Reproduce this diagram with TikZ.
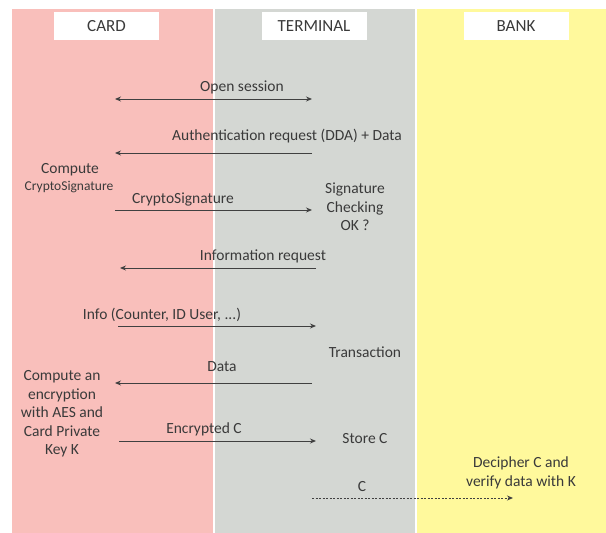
\documentclass[tikz,border=0pt]{standalone}
\usepackage{fontspec}
\setmainfont{Carlito}
\usetikzlibrary{arrows.meta}
\definecolor{lanepink}{HTML}{F9BFBB}
\definecolor{lanegray}{HTML}{D4D7D3}
\definecolor{laneyellow}{HTML}{FFF99C}
\definecolor{txt}{HTML}{3A3A3A}
\definecolor{arr}{HTML}{404040}
\tikzset{
  lane/.style={fill=#1, draw=none},
  hdr/.style={fill=white, draw=none, minimum width=105pt, minimum height=28pt, inner sep=0pt, text=txt, font=\fontsize{17}{20}\selectfont},
  lbl/.style={text=txt, inner sep=0pt, font=\fontsize{15.5}{18.5}\selectfont, align=center},
  small/.style={text=txt, inner sep=0pt, font=\fontsize{13.5}{16}\selectfont},
  msg/.style={draw=arr, line width=0.9pt, -{Stealth[length=6pt,width=5pt]}},
  dmsg/.style={msg, dashed, dash pattern=on 2pt off 1.5pt},
}
\begin{document}
\begin{tikzpicture}[x=1pt,y=-1pt]
\useasboundingbox (0,0) rectangle (606,533);
\fill[white] (0,0) rectangle (606,533);
% lanes
\path[lane=lanepink] (12,9) rectangle (213,533);
\path[lane=lanegray] (214.5,9) rectangle (415,533);
\path[lane=laneyellow] (416.5,9) rectangle (606,533);
% headers
\node[hdr] (card) at (106.5,26) {CARD};
\node[hdr] (term) at (314,26) {TERMINAL};
\node[hdr] (bank) at (516,26) {BANK};
% coordinates
\coordinate (a1l) at (115,99);  \coordinate (a1r) at (312,99);
\coordinate (a2l) at (115,153); \coordinate (a2r) at (312,153);
\coordinate (a3l) at (115,210); \coordinate (a3r) at (312,210);
\coordinate (a4l) at (120,268); \coordinate (a4r) at (316,268);
\coordinate (a5l) at (118,326); \coordinate (a5r) at (316,326);
\coordinate (a6l) at (115,383); \coordinate (a6r) at (312,383);
\coordinate (a7l) at (119,441); \coordinate (a7r) at (316,441);
\coordinate (a8l) at (312,498); \coordinate (a8r) at (513,498);
% messages
\node[lbl] (m1) at (242,87) {Open session};
\draw[msg, {Stealth[length=6pt,width=5pt]}-{Stealth[length=6pt,width=5pt]}] (a1l) -- (a1r);
\node[lbl] (m2) at (287,136) {Authentication request (DDA) + Data};
\draw[msg] (a2r) -- (a2l);
\node[lbl] (c1) at (70,170) {Compute};
\node[small] (c2) at (69,187) {CryptoSignature};
\node[lbl] (m3) at (183,199) {CryptoSignature};
\draw[msg] (a3l) -- (a3r);
\node[lbl] (sig) at (355,207) {Signature\\Checking\\OK ?};
\node[lbl] (m4) at (263,256) {Information request};
\draw[msg] (a4r) -- (a4l);
\node[lbl] (m5) at (162,315) {Info (Counter, ID User, ...)};
\draw[msg] (a5l) -- (a5r);
\node[lbl] (tr) at (365,352) {Transaction};
\node[lbl] (m6) at (222,367) {Data};
\draw[msg] (a6r) -- (a6l);
\node[lbl] (enc) at (62,414) {Compute an\\encryption\\with AES and\\Card Private\\Key K};
\node[lbl] (m7) at (204,429) {Encrypted C};
\draw[msg] (a7l) -- (a7r);
\node[lbl] (st) at (365,439) {Store C};
\node[lbl] (dec) at (521,472.5) {Decipher C and\\[0.5pt]verify data with K};
\node[lbl] (m8) at (362,487) {C};
\draw[dmsg] (a8l) -- (a8r);
\end{tikzpicture}
\end{document}
